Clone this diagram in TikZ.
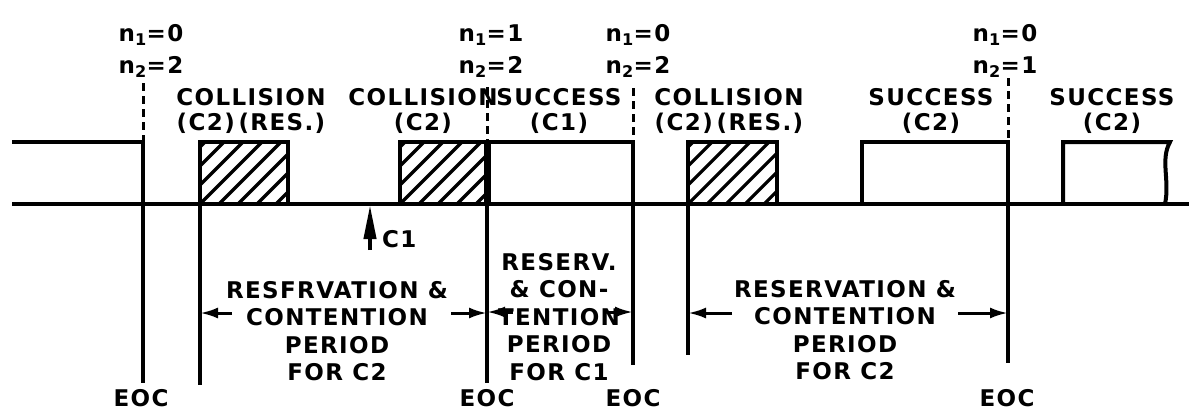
\documentclass[tikz,border=0pt]{standalone}
\usepackage{fontspec}
\setmainfont{DejaVu Sans}[LetterSpace=6]
\usetikzlibrary{arrows.meta,calc}
\newcommand{\hatchin}[4]{%
  \begin{scope}
    \clip (#1,#2) rectangle (#3,#4);
    \foreach \k in {-76,-57,...,120}{
      \draw[line width=3.2pt] ({#1+\k},#4) -- ++(70,-70);
    }
  \end{scope}}
\begin{document}
\begin{tikzpicture}[x=1pt,y=-1pt,
  wave/.style={line width=4pt, line join=miter},
  vline/.style={line width=3.4pt},
  dashv/.style={line width=3pt, dash pattern=on 8pt off 5pt},
  lbl/.style={font=\fontsize{23}{25}\selectfont\bfseries, align=center, inner sep=0pt},
  blbl/.style={font=\fontsize{23}{27.5}\selectfont\bfseries, align=center, inner sep=0pt},
  nlbl/.style={font=\fontsize{23}{32}\selectfont\bfseries, align=center, inner sep=0pt},
  arr/.style={line width=3pt, -{Latex[length=18pt,width=11pt]}}]
\useasboundingbox (0,0) rectangle (1189,416);

% time marks on the base line
\coordinate (b1) at (143,204);
\coordinate (b2) at (200,204);
\coordinate (b3) at (487,204);
\coordinate (b4) at (633,204);
\coordinate (b5) at (688,204);
\coordinate (b6) at (1008,204);

% waveform
\hatchin{200}{142}{288}{204}
\hatchin{400}{142}{488}{204}
\hatchin{688}{142}{777}{204}
\draw[wave] (12,204) -- (1189,204);
\draw[wave] (12,142) -- (143,142) -- (b1);
\draw[wave] (200,204) rectangle (288,142);
\draw[wave] (400,204) rectangle (488,142);
\draw[line width=7pt] (487,142) -- (b3);
\draw[wave] (488,142) -- (633,142) -- (b4);
\draw[wave] (688,204) rectangle (777,142);
\draw[wave] (862,204) -- (862,142) -- (1008,142) -- (b6);
\draw[wave] (1063,204) -- (1063,142) -- (1170,142)
  .. controls (1160,160) and (1170,180) .. (1165,204);

% dashed marks above
\draw[dashv] (143,83) -- (143,142);
\draw[dashv] (487,87) -- (487,142);
\draw[dashv] (633,88) -- (633,142);
\draw[dashv] (1008,78) -- (1008,142);

% vertical lines below
\coordinate (e1) at (143,383);
\coordinate (e2) at (200,385);
\coordinate (e3) at (487,383);
\coordinate (e4) at (633,365);
\coordinate (e5) at (688,355);
\coordinate (e6) at (1008,363);
\draw[vline] (b1) -- (e1);
\draw[vline] (b2) -- (e2);
\draw[vline] (b3) -- (e3);
\draw[vline] (b4) -- (e4);
\draw[vline] (b5) -- (e5);
\draw[vline] (b6) -- (e6);

% counters
\node[nlbl] (n1) at (151,51) {n\textsubscript{1}=0\\n\textsubscript{2}=2};
\node[nlbl] (n2) at (491,51) {n\textsubscript{1}=1\\n\textsubscript{2}=2};
\node[nlbl] (n3) at (638,51) {n\textsubscript{1}=0\\n\textsubscript{2}=2};
\node[nlbl] (n4) at (1005,51) {n\textsubscript{1}=0\\n\textsubscript{2}=1};

% box labels
\node[lbl] (c1) at (251,111) {COLLISION\\(C2)\,(RES.)};
\node[lbl] (c2) at (423,111) {COLLISION\\(C2)};
\node[lbl] (s1) at (559,111) {SUCCESS\\(C1)};
\node[lbl] (c3) at (729,111) {COLLISION\\(C2)\,(RES.)};
\node[lbl] (s2) at (931,111) {SUCCESS\\(C2)};
\node[lbl] (s3) at (1112,111) {SUCCESS\\(C2)};

% C1 arrival
\coordinate (c1tail) at (370,250);
\draw[line width=4pt, -{Triangle[length=34pt,width=12pt]}] (c1tail) -- (370,205);
\node[lbl, anchor=west] (c1lbl) at (382,239) {C1};

% period labels
\node[blbl] (p1) at (337,331) {RESFRVATION \&\\CONTENTION\\PERIOD\\FOR C2};
\node[blbl] (p2) at (559,317) {RESERV.\\\& CON-\\TENTION\\PERIOD\\FOR C1};
\node[blbl] (p3) at (845,330) {RESERVATION \&\\CONTENTION\\PERIOD\\FOR C2};

\coordinate (a1) at (232,313);
\coordinate (a2) at (451,313);
\coordinate (a3) at (513,312);
\coordinate (a4) at (609,312);
\coordinate (a5) at (732,313);
\coordinate (a6) at (958,313);
\draw[arr] (a1) -- (a1 -| b2);
\draw[arr] (a2) -- (a2 -| b3);
\draw[arr] (a3) -- (a3 -| b3);
\draw[arr] (a4) -- (a4 -| b4);
\draw[arr] (a5) -- (a5 -| b5);
\draw[arr] (a6) -- (a6 -| b6);

% EOC labels
\node[lbl] (eoc1) at (141,398) {EOC};
\node[lbl] (eoc2) at (487,398) {EOC};
\node[lbl] (eoc3) at (633,398) {EOC};
\node[lbl] (eoc4) at (1007,398) {EOC};
\end{tikzpicture}
\end{document}
